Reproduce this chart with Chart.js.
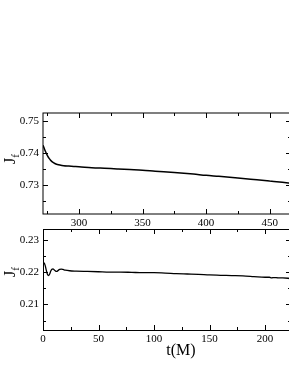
<!DOCTYPE html>
<html>
<head>
<meta charset="utf-8">
<script src="https://cdn.jsdelivr.net/npm/chart.js@4/dist/chart.umd.min.js"></script>
<style>
  html,body{margin:0;padding:0;background:#fff;overflow:hidden;width:289px;height:374px;}
  #wrap{position:relative;width:289px;height:374px;overflow:hidden;}
  canvas{position:absolute;left:0;}
  .lab{position:absolute;font-family:"Liberation Serif","Times New Roman",serif;color:#000;white-space:nowrap;line-height:1;}
  .ylab{font-size:16px;transform:translate(-50%,-50%) rotate(-90deg);}
  .ylab sub{font-size:11px;vertical-align:-4px;}
  .xlab{font-size:16px;transform:translate(-50%,-50%);}
</style>
</head>
<body>
<div id="wrap">
  <canvas id="c1" width="292" height="230" style="top:0px"></canvas>
  <canvas id="c2" width="292" height="159" style="top:215px"></canvas>
  <div class="lab ylab" style="left:11px;top:159px">J<sub>f</sub></div>
  <div class="lab ylab" style="left:11px;top:272px">J<sub>f</sub></div>
  <div class="lab xlab" style="left:181px;top:350px">t(M)</div>
</div>
<script>
// ---- Top panel data ----
const topT = [271.7, 272.5, 273.5, 274.5, 275.5, 276.5, 277.5, 279, 281, 283, 285, 288, 292, 296, 300,
              310, 320, 330, 340, 350, 360, 375, 390, 400, 410, 425, 440, 450, 460, 467];
const topJ = [0.7425, 0.7417, 0.7407, 0.7398, 0.7390, 0.7384, 0.7379, 0.7373, 0.7368, 0.7365, 0.7363, 0.7361, 0.7360, 0.7359, 0.7358,
              0.7355, 0.7353, 0.7351, 0.7349, 0.7347, 0.7344, 0.7340, 0.7335, 0.7331, 0.7328, 0.7323, 0.7317, 0.7313, 0.7309, 0.7306];

// ---- Bottom panel data ----
const botT = [0, 1, 2, 3, 4, 5, 6, 7, 8, 9, 10, 11, 12, 13, 14, 15, 16.5, 18, 20, 24, 30, 40, 50,
              60, 70, 80, 90, 100, 110, 120, 130, 140, 150, 160, 170, 180, 190, 200, 204, 206, 208, 212, 216, 223];
const botJ = [0.2229, 0.2228, 0.2220, 0.2205, 0.2193, 0.2189, 0.2194, 0.2203, 0.2209, 0.2210, 0.2207, 0.2204, 0.2202, 0.2203, 0.2206, 0.2208, 0.2209, 0.2208, 0.2206, 0.2204, 0.2203, 0.2202, 0.2201,
              0.2200, 0.2200, 0.2199, 0.2198, 0.2198, 0.2197, 0.2195, 0.2194, 0.2193, 0.2191, 0.2190, 0.2189, 0.2188, 0.2186, 0.2184, 0.2184, 0.2182, 0.2183, 0.2182, 0.2182, 0.2180];

// ---- Ticks ----
const topXTicks = [275, 300, 325, 350, 375, 400, 425, 450];
const topXMajor = [300, 350, 400, 450];
const topYTicks = [0.725, 0.73, 0.735, 0.74, 0.745, 0.75];
const topYMajor = [0.73, 0.74, 0.75];
const botXTicks = [0, 25, 50, 75, 100, 125, 150, 175, 200];
const botXMajor = [0, 50, 100, 150, 200];
const botYTicks = [0.205, 0.21, 0.215, 0.22, 0.225, 0.23];
const botYMajor = [0.21, 0.22, 0.23];

const FONT = {family: "'Liberation Serif','Times New Roman',serif", size: 11};
const isIn = (arr, v) => arr.some(a => Math.abs(a - v) < 1e-9);

const framePlugin = {
  id: 'frame',
  afterDraw(chart, args, o) {
    const {ctx, chartArea: a, scales: {x, y}} = chart;
    const off = o.off;
    ctx.save();
    ctx.strokeStyle = '#000';
    ctx.lineWidth = 1;
    ctx.strokeRect(a.left + off, a.top + off, a.right - a.left, a.bottom - a.top);
    ctx.beginPath();
    x.ticks.forEach(t => {
      const px = Math.round(x.getPixelForValue(t.value)) + 0.5;
      const L = isIn(o.xMajor, t.value) ? 5 : 3;
      ctx.moveTo(px, a.bottom); ctx.lineTo(px, a.bottom - L);
      ctx.moveTo(px, a.top); ctx.lineTo(px, a.top + L);
    });
    y.ticks.forEach(t => {
      const py = Math.round(y.getPixelForValue(t.value)) + 0.5;
      const L = isIn(o.yMajor, t.value) ? 5 : 3;
      ctx.moveTo(a.left, py); ctx.lineTo(a.left + L, py);
      ctx.moveTo(a.right, py); ctx.lineTo(a.right - L, py);
    });
    ctx.stroke();
    ctx.restore();
  }
};

function makeChart(id, T, J, xr, yr, xt, xm, yt, ym, pad, xh, off, lw) {
  return new Chart(document.getElementById(id), {
    type: 'line',
    data: {
      datasets: [{
        data: T.map((t, i) => ({x: t, y: J[i]})),
        borderColor: '#000', borderWidth: lw, pointRadius: 0,
        cubicInterpolationMode: 'monotone', clip: 0
      }]
    },
    options: {
      responsive: false, animation: false,
      layout: {padding: pad},
      plugins: {legend: {display: false}, tooltip: {enabled: false}, frame: {xMajor: xm, yMajor: ym, off: off}},
      scales: {
        x: {
          type: 'linear', min: xr[0], max: xr[1],
          afterBuildTicks: s => { s.ticks = xt.filter(v => v >= xr[0] && v <= xr[1]).map(v => ({value: v})); },
          afterFit: s => { s.height = xh; },
          grid: {display: false, drawTicks: false}, border: {display: false},
          ticks: {font: FONT, color: '#000', padding: 3, maxRotation: 0, autoSkip: false,
                  callback: v => isIn(xm, v) ? String(v) : ''}
        },
        y: {
          type: 'linear', min: yr[0], max: yr[1],
          afterBuildTicks: s => { s.ticks = yt.filter(v => v >= yr[0] && v <= yr[1]).map(v => ({value: v})); },
          afterFit: s => { s.width = 43; },
          grid: {display: false, drawTicks: false}, border: {display: false},
          ticks: {font: FONT, color: '#000', padding: 4, autoSkip: false,
                  callback: v => isIn(ym, v) ? v.toFixed(2) : ''}
        }
      }
    },
    plugins: [framePlugin]
  });
}

makeChart('c1', topT, topJ, [271.7, 466.8], [0.7210, 0.7526], topXTicks, topXMajor, topYTicks, topYMajor,
          {top: 113, left: 0, right: 1, bottom: 0}, 16, 0, 1.5);
makeChart('c2', botT, botJ, [0, 223.4], [0.2021, 0.2333], botXTicks, botXMajor, botYTicks, botYMajor,
          {top: 14, left: 0, right: 1, bottom: 24}, 20, 0.5, 1.3);
</script>
</body>
</html>
